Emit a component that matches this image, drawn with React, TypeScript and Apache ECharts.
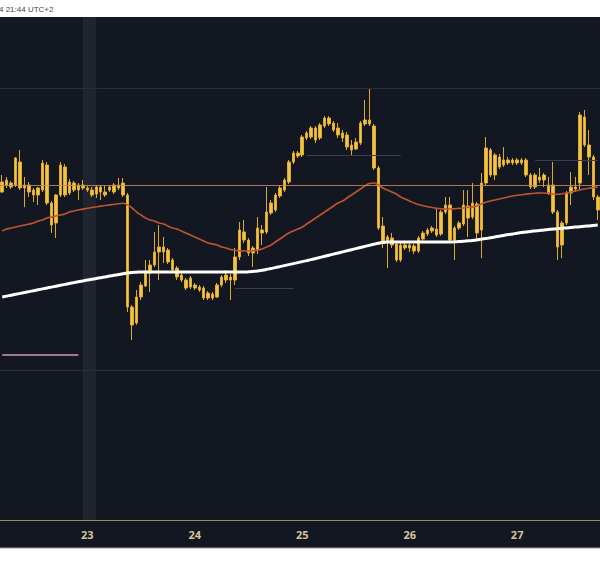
import React, { useEffect, useRef } from "react";
import * as echarts from "echarts";

// Hourly candles: [open, close, low, high]
const candles: number[][] = [
  [408, 418, 407, 425], [415, 420, 412, 423], [417, 413, 411, 419], [415, 442, 413, 443],
  [438, 412, 410, 450], [412, 415, 393, 423], [415, 408, 403, 418], [410, 405, 398, 412],
  [405, 412, 395, 413], [410, 437, 408, 440], [435, 397, 395, 438], [397, 375, 367, 399],
  [377, 405, 362, 406], [405, 435, 403, 438], [433, 405, 403, 436], [407, 418, 405, 421],
  [417, 410, 408, 419], [410, 415, 400, 417], [415, 412, 410, 420], [412, 410, 408, 414],
  [410, 405, 403, 413], [406, 413, 402, 415], [413, 408, 400, 415], [408, 405, 403, 414],
  [410, 413, 408, 415], [408, 415, 406, 417], [415, 412, 410, 422], [417, 405, 403, 422],
  [405, 293, 288, 407], [293, 275, 260, 295], [277, 303, 275, 310], [303, 315, 300, 318],
  [314, 327, 313, 340], [327, 335, 308, 340], [335, 348, 333, 368], [348, 353, 320, 375],
  [353, 348, 337, 363], [350, 338, 336, 352], [340, 330, 328, 342], [332, 323, 320, 334],
  [325, 320, 318, 327], [320, 312, 310, 322], [313, 322, 311, 324], [315, 312, 310, 317],
  [313, 310, 308, 315], [312, 302, 300, 314], [302, 307, 300, 309], [306, 302, 300, 308],
  [303, 315, 302, 317], [315, 323, 313, 325], [320, 325, 317, 330], [323, 320, 300, 326],
  [320, 343, 315, 352], [343, 370, 340, 378], [368, 360, 357, 380], [360, 347, 344, 362],
  [347, 352, 333, 354], [350, 372, 346, 383], [370, 367, 355, 375], [368, 388, 366, 413],
  [387, 397, 385, 400], [390, 405, 388, 407], [404, 412, 402, 414], [410, 420, 408, 422],
  [418, 438, 416, 440], [438, 447, 436, 449], [447, 444, 442, 449], [445, 463, 443, 465],
  [462, 467, 460, 469], [463, 472, 461, 474], [472, 460, 457, 474], [462, 475, 460, 477],
  [474, 482, 472, 484], [482, 476, 474, 484], [477, 470, 468, 479], [472, 465, 462, 477],
  [467, 462, 458, 470], [465, 453, 450, 468], [455, 450, 445, 460], [451, 458, 450, 462],
  [457, 477, 455, 479], [476, 480, 474, 500], [480, 476, 474, 512], [474, 432, 430, 476],
  [432, 372, 370, 434], [374, 357, 352, 383], [358, 363, 332, 365], [362, 355, 352, 367],
  [356, 340, 338, 358], [340, 355, 338, 357], [355, 352, 350, 357], [352, 355, 348, 357],
  [354, 349, 346, 356], [349, 362, 347, 364], [361, 367, 359, 369], [366, 370, 364, 372],
  [369, 372, 367, 374], [371, 365, 363, 392], [366, 388, 364, 390], [388, 395, 386, 403],
  [395, 360, 357, 403], [360, 372, 340, 374], [372, 377, 370, 379], [376, 395, 374, 410],
  [394, 382, 363, 410], [383, 397, 381, 417], [396, 367, 360, 398], [370, 417, 342, 427],
  [417, 452, 415, 463], [450, 425, 423, 452], [425, 445, 420, 447], [443, 433, 431, 446],
  [435, 440, 433, 453], [440, 437, 435, 443], [437, 440, 435, 442], [440, 437, 435, 442],
  [437, 440, 435, 442], [440, 425, 423, 442], [425, 413, 411, 427], [413, 425, 411, 427],
  [423, 420, 417, 432], [420, 425, 413, 427], [415, 407, 405, 423], [415, 388, 386, 438],
  [388, 353, 340, 390], [355, 377, 342, 379], [377, 407, 375, 409], [407, 413, 395, 428],
  [411, 413, 408, 423], [417, 485, 410, 488], [483, 455, 453, 490], [455, 443, 425, 470],
  [443, 403, 400, 445], [403, 390, 380, 405],
];

// Medium moving average (orange)
const maMedium: number[] = [
  369, 371, 372, 373, 374, 375, 376, 377, 379, 380, 382, 383, 384, 385, 386, 388, 389, 390, 390.9, 391.7,
  392.5, 393.2, 393.9, 394.5, 395.1, 395.7, 396.2, 396.7,
  395, 392, 388, 385, 382, 380, 379, 377, 376, 374, 372, 371, 369, 367, 365, 363, 361, 359, 357, 356,
  355, 353, 352, 350.5, 349.8, 349.3, 349, 349, 349.2,
  350, 351, 353, 355, 358, 361, 364, 367, 369, 371, 373, 376, 379, 382, 385, 388, 391, 394, 397, 399,
  402, 405, 408, 411, 414, 416.5,
  417, 415, 412, 410, 408, 406, 403, 401, 399, 397, 395.5, 394.3, 393.3, 392.5, 391.8, 391.3, 391, 391, 391.2, 391.6,
  392, 392.5, 393.1, 394, 396, 397.8, 399, 400,
  401, 402, 403, 404, 404.7, 405.3, 405.9, 406.4, 406.8, 407, 407, 406.6, 406, 405.8, 406.2, 407, 408, 409, 410, 411,
  411.8, 412.4, 413,
];

// Long moving average (white)
const maLong: number[] = [
  303.0, 303.9, 304.8, 305.7, 306.6, 307.5, 308.4, 309.3, 310.2, 311.1, 312.0, 312.9, 313.8, 314.7, 315.6,
  316.5, 317.4, 318.3, 319.1, 319.9, 320.7, 321.5, 322.3, 323.1, 323.9, 324.7, 325.5, 326.3, 327.0,
  327.5, 327.8, 328.0,
  328, 328, 328, 328, 328, 328, 328, 328, 328, 328, 328, 328, 328, 328, 328, 328, 328, 328, 328, 328,
  328, 328, 328,
  328.2, 328.6, 329.1, 329.8, 330.6, 331.5, 332.4, 333.4, 334.4, 335.4, 336.4, 337.4, 338.4, 339.4, 340.4,
  341.5, 342.6, 343.7, 344.8, 345.9, 347.0, 348.1, 349.2, 350.3, 351.4, 352.5, 353.6, 354.7, 355.8, 356.8,
  357.5, 357.9,
  358, 358, 358, 358, 358, 358, 358, 358, 358, 358, 358, 358, 358, 358,
  358.2, 358.5, 358.8, 359.2, 359.6, 360.1, 360.7, 361.4, 362.2, 363.0, 363.8, 364.6, 365.4, 366.1, 366.8,
  367.4, 368.0, 368.6, 369.1, 369.6, 370.1, 370.5, 370.9, 371.3, 371.7, 372.1, 372.5, 372.9, 373.3, 373.7,
  374.1, 374.5, 374.9,
];

// Horizontal levels
const orangeLevel = 415;
const faintLevels = [230, 512];
// [fromIndex, toIndex, value]
const segments: number[][] = [
  [52, 65, 312],
  [68, 89, 445],
  [119, 133, 440],
];
const redSegment = [0, 17, 245];
const highlightBand = [18, 21];

const START_DAY = 22;
const START_HOUR = 5;
const hours: string[] = candles.map((_, i) => {
  const t = START_HOUR + i;
  const d = START_DAY + Math.floor(t / 24);
  const h = t % 24;
  return `${d} ${h < 10 ? "0" + h : h}:00`;
});

export default function App() {
  const ref = useRef<HTMLDivElement>(null);

  useEffect(() => {
    const chart = echarts.init(ref.current!, null, { renderer: "svg" });
    const yellow = "#f6c444";
    const option: any = {
      animation: false,
      backgroundColor: "#131722",
      grid: { left: 0, right: 0, top: 17, bottom: 46 },
      xAxis: {
        type: "category",
        data: hours,
        boundaryGap: true,
        axisLine: { show: true, lineStyle: { color: "#9c8a68", width: 1 } },
        axisTick: { show: false },
        splitLine: { show: false },
        axisLabel: {
          color: "#d6c49c",
          fontSize: 11,
          fontWeight: "bold",
          fontFamily: "Open Sans, sans-serif",
          margin: 9,
          interval: (_idx: number, val: string) => val.endsWith(" 00:00"),
          formatter: (val: string) => val.split(" ")[0],
        },
      },
      yAxis: {
        type: "value",
        min: 80,
        max: 583,
        show: false,
        splitLine: { show: false },
      },
      series: [
        {
          type: "candlestick",
          data: candles,
          barWidth: 3,
          z: 3,
          itemStyle: {
            color: yellow,
            color0: yellow,
            borderColor: "#dcaa2e",
            borderColor0: "#dcaa2e",
            borderWidth: 1,
          },
          markArea: {
            silent: true,
            itemStyle: { color: "rgba(255,255,255,0.06)" },
            data: [[{ xAxis: hours[highlightBand[0]] }, { xAxis: hours[highlightBand[1]] }]],
          },
          markLine: {
            silent: true,
            symbol: "none",
            label: { show: false },
            data: [
              { yAxis: orangeLevel, lineStyle: { color: "#c08868", width: 1, type: "solid", opacity: 0.85 } },
              ...faintLevels.map((v) => ({
                yAxis: v,
                lineStyle: { color: "#2a2e39", width: 1, type: "solid" },
              })),
              ...segments.map((s) => [
                { coord: [hours[s[0]], s[2]], lineStyle: { color: "#3a3e48", width: 1, type: "solid" } },
                { coord: [hours[s[1]], s[2]] },
              ]),
              [
                { coord: [hours[redSegment[0]], redSegment[2]], lineStyle: { color: "#a17890", width: 2, type: "solid" } },
                { coord: [hours[redSegment[1]], redSegment[2]] },
              ],
            ],
          },
        },
        {
          type: "line",
          data: maMedium,
          symbol: "none",
          smooth: true,
          z: 4,
          lineStyle: { color: "#bd5630", width: 1.6 },
        },
        {
          type: "line",
          data: maLong,
          symbol: "none",
          smooth: true,
          z: 4,
          lineStyle: { color: "#ffffff", width: 3 },
        },
      ],
      graphic: [
        { type: "rect", shape: { x: 0, y: 0, width: 600, height: 17 }, style: { fill: "#ffffff" }, z: 10 },
        { type: "rect", shape: { x: 0, y: 548, width: 600, height: 18 }, style: { fill: "#ffffff" }, z: 10 },
        { type: "line", shape: { x1: 0, y1: 548, x2: 600, y2: 548 }, style: { stroke: "#9a9a9a", lineWidth: 1 }, z: 11 },
        {
          type: "text",
          x: -1,
          y: 9,
          z: 11,
          style: {
            text: "4 21:44 UTC+2",
            fill: "#444444",
            fontSize: 8,
            fontFamily: "Liberation Sans, sans-serif",
            verticalAlign: "middle",
          },
        },
      ],
    };
    chart.setOption(option);
    return () => chart.dispose();
  }, []);

  return (
    <div
      ref={ref}
      style={{ position: "absolute", left: 0, top: 0, width: 600, height: 566 }}
    />
  );
}
